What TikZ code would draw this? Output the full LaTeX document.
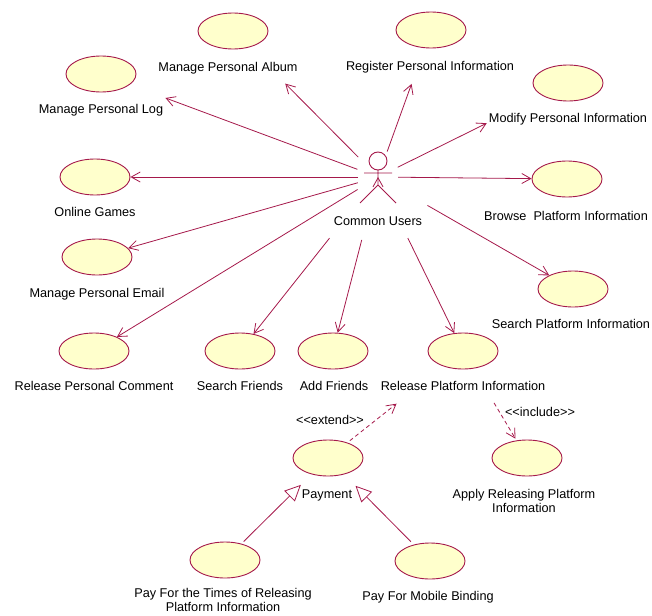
\documentclass[tikz,border=0pt]{standalone}
\usepackage{fontspec}
\setmainfont{Liberation Sans}
\usetikzlibrary{arrows.meta}
\usetikzlibrary{shapes.geometric}

\definecolor{umlline}{RGB}{165,25,75}
\definecolor{umlfill}{RGB}{255,255,204}

\begin{document}
\begin{tikzpicture}[x=1pt,y=-1pt,font=\fontsize{12.7}{14.5}\selectfont,
    usecase/.style={ellipse,draw=umlline,fill=umlfill,line width=0.9pt,minimum width=70pt,minimum height=36pt,inner sep=0pt},
    txt/.style={inner sep=2pt,text height=9.5pt,text depth=2.7pt},
    txtii/.style={inner sep=2pt,align=center},
    assoc/.style={draw=umlline,line width=0.8pt,-{Straight Barb[length=9pt,width=10pt]}},
    dep/.style={assoc,dash pattern=on 4pt off 3pt},
    gen/.style={draw=umlline,line width=0.8pt,-{Triangle[open,fill=white,length=16pt,width=15pt]}}]
        \useasboundingbox (0,0) rectangle (652,615);

        \coordinate (user) at (378,177);
        \draw[umlline,line width=0.9pt] (user) ++(0,-16) circle (9pt)
          (user) ++(-14,-4) -- ++(28,0)
          (user) ++(0,-7) -- ++(0,15) -- ++(-18,18)
          (user) ++(0,8) -- ++(18,18);
        \node[txt] (userl) at (378,222) {Common Users};

        \node[usecase] (album) at (233,31) {};
        \node[txt] (albuml) at (228,68) {Manage Personal Album};
        \node[usecase] (register) at (431,30) {};
        \node[txt] (registerl) at (430,67) {Register Personal Information};
        \node[usecase] (log) at (101,74) {};
        \node[txt] (logl) at (101,110) {Manage Personal Log};
        \node[usecase] (modify) at (568,83) {};
        \node[txt] (modifyl) at (568,119) {Modify Personal Information};
        \node[usecase] (games) at (95,177) {};
        \node[txt] (gamesl) at (95,213) {Online Games};
        \node[usecase] (browse) at (567,179) {};
        \node[txt] (browsel) at (566,217) {Browse\ \ Platform Information};
        \node[usecase] (email) at (97,257) {};
        \node[txt] (emaill) at (97,294) {Manage Personal Email};
        \node[usecase] (searchp) at (573,289) {};
        \node[txt] (searchpl) at (571,325) {Search Platform Information};
        \node[usecase] (comment) at (94,351) {};
        \node[txt] (commentl) at (94,387) {Release Personal Comment};
        \node[usecase] (searchf) at (240,351) {};
        \node[txt] (searchfl) at (240,387) {Search Friends};
        \node[usecase] (addf) at (333,351) {};
        \node[txt] (addfl) at (334,387) {Add Friends};
        \node[usecase] (releasep) at (463,351) {};
        \node[txt] (releasepl) at (463,387) {Release Platform Information};

        \node[usecase] (payment) at (328,458) {};
        \node[txt] (paymentl) at (327,495) {Payment};
        \node[usecase] (apply) at (527,458) {};
        \node[txtii] (applyl) at (524,501) {Apply Releasing Platform\\Information};
        \node[usecase] (paytimes) at (225,560) {};
        \node[txtii] (paytimesl) at (223,600) {Pay For the Times of Releasing\\Platform Information};
        \node[usecase] (mobile) at (430,561) {};
        \node[txt] (mobilel) at (428,597) {Pay For Mobile Binding};

        \path[assoc] (user) edge[shorten <=22pt,shorten >=38pt] (log)
          edge[shorten <=28pt,shorten >=51pt] (album)
          edge[shorten <=27pt,shorten >=38pt] (register)
          edge[shorten <=22pt,shorten >=62pt] (modify)
          edge[shorten <=20pt] (games)
          edge[shorten <=20pt] (browse)
          edge[shorten <=21pt] (email)
          edge[shorten <=57pt] (searchp)
          edge[shorten <=24pt] (comment)
          edge[shorten <=78pt] (searchf)
          edge[shorten <=65pt] (addf)
          edge[shorten <=68pt] (releasep);

        \path[dep] (payment) edge[shorten <=3pt,shorten >=60pt] (releasep)
          (releasep) edge[shorten <=40pt,shorten >=2pt] (apply);
        \node[txt] (extendl) at (330,421) {<\kern0pt<extend>\kern0pt>};
        \node[txt] (includel) at (540,413) {<\kern0pt<include>\kern0pt>};

        \path[gen] (paytimes) edge[shorten <=3pt,shorten >=15pt] (payment)
          (mobile) edge[shorten <=4pt,shorten >=16pt] (payment);
      \end{tikzpicture}
\end{document}
